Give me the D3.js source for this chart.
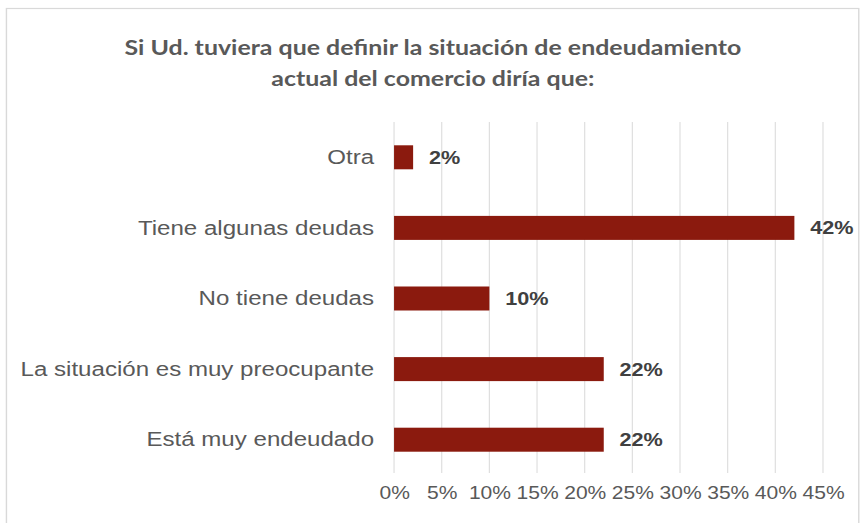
<!DOCTYPE html>
<html>
<head>
<meta charset="utf-8">
<script src="https://cdn.jsdelivr.net/npm/d3@7"></script>
<style>
  html, body { margin: 0; padding: 0; background: #ffffff; }
  svg { display: block; }
</style>
</head>
<body>
<div id="chart"></div>
<script>
// Survey answers, top to bottom as drawn
const categories = [
  "Otra",
  "Tiene algunas deudas",
  "No tiene deudas",
  "La situación es muy preocupante",
  "Está muy endeudado"
];
const values = [2, 42, 10, 22, 22];
const tickValues = [0, 5, 10, 15, 20, 25, 30, 35, 40, 45];
const titleLines = [
  "Si Ud. tuviera que definir la situación de endeudamiento",
  "actual del comercio diría que:"
];

const pxW = 866, pxH = 523;
// the drawing is laid out in a horizontally compressed space and stretched to fill the window
const stretch = 1.17;
const W = pxW / stretch, H = pxH;

const svg = d3.select("#chart").append("svg")
  .attr("width", pxW)
  .attr("height", pxH)
  .attr("viewBox", `0 0 ${W} ${H}`)
  .attr("preserveAspectRatio", "none");

// chart frame
svg.append("rect")
  .attr("x", 5.5).attr("y", 8.5)
  .attr("width", 734 - 5.5).attr("height", H)
  .attr("fill", "#ffffff")
  .attr("stroke", "#d9d9d9")
  .attr("stroke-width", 1.2);

const plot = { left: 336.8, right: 703.4, top: 122, bottom: 475 };

const x = d3.scaleLinear().domain([0, 45]).range([plot.left, plot.right]);
const y = d3.scaleBand().domain(categories)
  .range([plot.top, plot.bottom])
  .paddingInner(0.66).paddingOuter(0.33);

// title
svg.append("g").selectAll("text")
  .data(titleLines)
  .join("text")
  .attr("x", 370)
  .attr("y", (d, i) => 55 + i * 31)
  .attr("text-anchor", "middle")
  .attr("font-family", "Lato, 'Open Sans', sans-serif")
  .attr("font-weight", "bold")
  .attr("font-size", 21.3)
  .attr("fill", "#595959")
  .text(d => d);

// vertical gridlines
svg.append("g").selectAll("line")
  .data(tickValues)
  .join("line")
  .attr("x1", d => x(d)).attr("x2", d => x(d))
  .attr("y1", plot.top).attr("y2", 473)
  .attr("stroke", "#dedede")
  .attr("stroke-width", 1);

// x axis labels
const xAxis = d3.axisBottom(x)
  .tickValues(tickValues)
  .tickFormat(d => d + "%")
  .tickSize(0)
  .tickPadding(0);
const gx = svg.append("g")
  .attr("transform", `translate(0, 486)`)
  .call(xAxis);
gx.select(".domain").remove();
gx.selectAll("text")
  .attr("font-family", "'Liberation Sans', Arial, sans-serif")
  .attr("font-size", 18)
  .attr("fill", "#595959");

// category labels
const yAxis = d3.axisLeft(y).tickSize(0).tickPadding(0);
const gy = svg.append("g")
  .attr("transform", `translate(319.7, 0)`)
  .call(yAxis);
gy.select(".domain").remove();
gy.selectAll("text")
  .attr("font-family", "'Liberation Sans', Arial, sans-serif")
  .attr("font-size", 20.6)
  .attr("fill", "#595959");

// bars
svg.append("g").selectAll("rect")
  .data(values)
  .join("rect")
  .attr("x", x(0))
  .attr("y", (d, i) => y(categories[i]))
  .attr("width", d => x(d) - x(0))
  .attr("height", y.bandwidth())
  .attr("fill", "#8b1a0e");

// value labels
svg.append("g").selectAll("text")
  .data(values)
  .join("text")
  .attr("x", d => x(d) + 13.5)
  .attr("y", (d, i) => y(categories[i]) + y.bandwidth() / 2)
  .attr("dy", "0.35em")
  .attr("font-family", "'Liberation Sans', Arial, sans-serif")
  .attr("font-weight", "bold")
  .attr("font-size", 18.5)
  .attr("fill", "#404040")
  .text(d => d + "%");
</script>
</body>
</html>
